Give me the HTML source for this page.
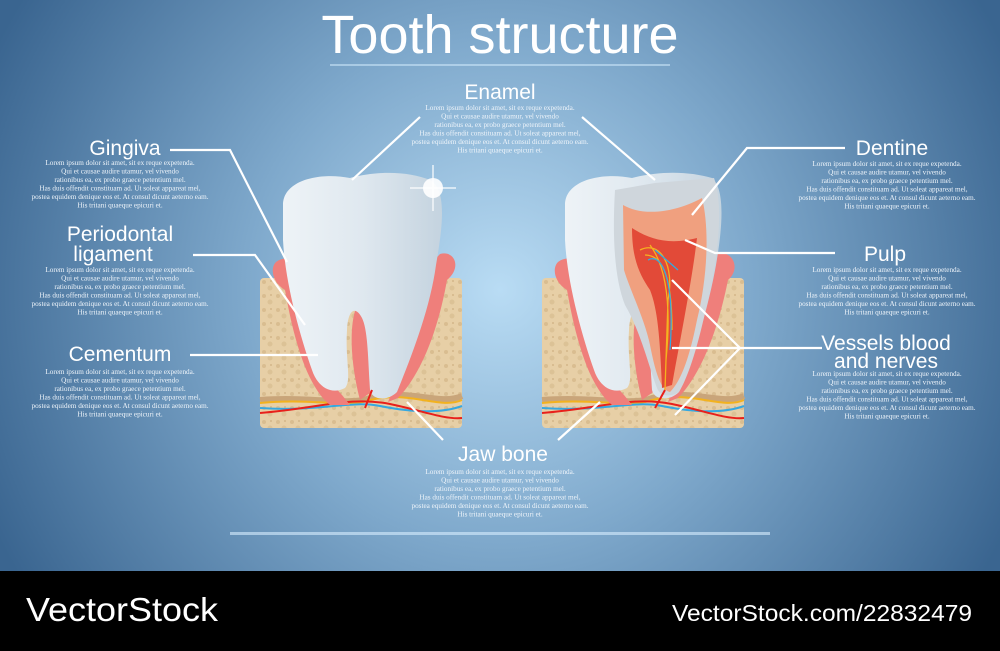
<!DOCTYPE html>
<html><head><meta charset="utf-8"><style>
html,body{margin:0;padding:0;width:1000px;height:651px;overflow:hidden;background:#000}
svg{display:block}
.t{font-family:"Liberation Sans",sans-serif;fill:#fff;text-anchor:middle}
.l{font-family:"Liberation Serif",serif;fill:#eef4fa;font-size:7.2px;text-anchor:middle}
.ln{stroke:#fff;stroke-width:2.2;fill:none}
</style></head><body>
<svg width="1000" height="651" viewBox="0 0 1000 651">
<defs>
<radialGradient id="bg" cx="500" cy="290" r="560" gradientUnits="userSpaceOnUse">
<stop offset="0" stop-color="#b9dcf4"/><stop offset="0.45" stop-color="#7fa9cc"/><stop offset="1" stop-color="#3a6590"/>
</radialGradient>
<linearGradient id="tooth" x1="0" x2="1" y1="0" y2="0">
<stop offset="0" stop-color="#eef3f7"/><stop offset="0.5" stop-color="#dfe8ef"/><stop offset="1" stop-color="#c4d3df"/>
</linearGradient>
<pattern id="bone" width="14" height="14" patternUnits="userSpaceOnUse">
<rect width="14" height="14" fill="#e7cfa6"/><circle cx="4" cy="4" r="2" fill="#d9bd90"/><circle cx="10" cy="10" r="2.5" fill="#dcc296"/><circle cx="11" cy="3" r="1" fill="#d4b788"/>
</pattern>
<g id="base">
<rect x="0" y="0" width="202" height="150" rx="4" fill="url(#bone)"/>
<path d="M0,122 C50,118 90,128 110,120 C150,110 180,128 202,118" stroke="#c9a57a" stroke-width="6" fill="none"/>
<path d="M0,125 C50,120 90,130 110,122 C150,112 180,132 202,122" stroke="#f2b21f" stroke-width="2" fill="none"/>
<path d="M0,130 C60,134 90,122 120,128 C150,134 180,136 202,128" stroke="#36a8e0" stroke-width="2" fill="none"/>
<path d="M0,135 C60,130 90,118 130,126 C160,132 185,142 202,140" stroke="#e8201b" stroke-width="2" fill="none"/>
</g>
</defs>
<rect width="1000" height="571" fill="url(#bg)"/>
<rect y="571" width="1000" height="80" fill="#000"/>
<rect x="230" y="532" width="540" height="3" fill="#d8efff" opacity="0.6"/>
<rect x="330" y="64" width="340" height="2" fill="#d8efff" opacity="0.5"/>

<text class="t" x="500" y="53" font-size="54">Tooth structure</text>

<!-- left illustration -->
<use href="#base" x="260" y="278"/>
<path d="M276,262 C290,252 302,265 300,285 C305,320 318,370 342,395 L350,405 L330,405 C305,385 292,330 285,290 C272,282 270,268 276,262 Z" fill="#ef7f7b"/>
<path d="M440,254 C455,250 462,268 447,280 C440,320 425,370 398,398 L388,402 C405,360 420,310 425,270 Z" fill="#ef7f7b"/>
<path d="M356,308 C370,305 372,340 374,390 L360,400 C352,370 348,330 356,308 Z" fill="#ef7f7b"/>
<path d="M283,205 C283,180 320,172 350,178 C380,170 410,172 430,180 C448,190 442,230 436,265 C430,310 410,360 397,392 C387,402 372,400 370,390 C368,360 368,330 362,318 C355,305 348,310 347,330 C345,360 352,380 345,388 C332,395 318,388 312,370 C298,330 285,280 283,240 Z" fill="url(#tooth)"/>
<path d="M372,390 L365,408" stroke="#e8201b" stroke-width="2"/>
<circle cx="433" cy="188" r="10" fill="#fff" opacity="0.9"/>
<path d="M410,188 L456,188 M433,165 L433,211" stroke="#fff" stroke-width="1.5" opacity="0.8"/>

<!-- right illustration -->
<use href="#base" x="542" y="278"/>
<path d="M558,262 C572,252 584,265 582,285 C587,320 600,370 624,395 L632,405 L612,405 C587,385 574,330 567,290 C554,282 552,268 558,262 Z" fill="#ef7f7b"/>
<path d="M714,254 C732,248 742,268 728,280 C720,320 705,370 678,398 L668,402 C685,360 700,310 705,270 Z" fill="#ef7f7b"/>
<path d="M638,308 C652,305 654,340 656,390 L642,400 C634,370 630,330 638,308 Z" fill="#ef7f7b"/>
<path d="M565,205 C565,180 602,172 632,178 C662,170 692,172 712,178 C726,190 722,230 716,265 C708,310 692,360 679,392 C669,402 654,400 652,390 C650,360 650,330 644,318 C637,305 630,310 629,330 C627,360 634,380 627,388 C614,395 600,388 594,370 C580,330 567,280 565,240 Z" fill="url(#tooth)"/>
<path d="M615,190 L655,183 L714,178 C722,200 720,240 712,280 C702,330 692,370 679,392 C669,398 660,396 657,388 C650,370 640,330 625,305 C615,280 612,240 615,190 Z" fill="#cfd6dc"/>
<path d="M623,205 C640,215 670,215 702,198 C710,230 707,280 697,320 C690,355 682,380 670,392 C660,390 655,370 650,345 C645,320 630,290 624,270 Z" fill="#f0a07f"/>
<path d="M632,228 C650,240 670,245 697,238 C692,280 682,330 672,385 L662,388 C660,340 658,310 650,290 C640,275 632,260 632,228 Z" fill="#e24a38"/>
<path d="M640,250 C660,240 675,265 668,300 L665,390 M645,255 C660,255 672,270 672,330 M650,245 C665,265 672,300 666,360" stroke="#f5b21f" stroke-width="1.3" fill="none"/>
<path d="M648,260 C662,252 675,280 670,350 M655,250 L678,270" stroke="#36a8e0" stroke-width="1.3" fill="none"/>
<path d="M665,390 L655,408" stroke="#e8201b" stroke-width="2"/>

<!-- connector lines -->
<path class="ln" d="M170,150 L230,150 L287,262"/>
<path class="ln" d="M193,255 L255,255 L305,325"/>
<path class="ln" d="M190,355 L318,355"/>
<path class="ln" d="M420,117 L352,180"/>
<path class="ln" d="M582,117 L655,180"/>
<path class="ln" d="M845,148 L747,148 L692,215"/>
<path class="ln" d="M835,253 L715,253 L685,240"/>
<path class="ln" d="M822,348 L740,348 L672,280 M740,348 L672,348 M740,348 L675,415"/>
<path class="ln" d="M443,440 L407,402 M558,440 L600,402"/>

<!-- titles -->
<g class="t" font-size="21">
<text x="500" y="99">Enamel</text>
<text x="125" y="155">Gingiva</text>
<text x="120" y="241">Periodontal</text>
<text x="113" y="261">ligament</text>
<text x="120" y="361">Cementum</text>
<text x="892" y="155">Dentine</text>
<text x="885" y="261">Pulp</text>
<text x="886" y="350">Vessels blood</text>
<text x="886" y="368">and nerves</text>
<text x="503" y="461">Jaw bone</text>
</g>

<!-- lorem blocks -->
<g class="l">
<g transform="translate(500,110)">
<text y="0">Lorem ipsum dolor sit amet, sit ex reque expetenda.</text><text y="8.5">Qui et causae audire utamur, vel vivendo</text><text y="17">rationibus ea, ex probo graece petentium mel.</text><text y="25.5">Has duis offendit constituam ad. Ut soleat appareat mel,</text><text y="34">postea equidem denique eos et. At consul dicunt aeterno eam.</text><text y="42.5">His tritani quaeque epicuri et.</text></g>
<g transform="translate(120,165)">
<text y="0">Lorem ipsum dolor sit amet, sit ex reque expetenda.</text><text y="8.5">Qui et causae audire utamur, vel vivendo</text><text y="17">rationibus ea, ex probo graece petentium mel.</text><text y="25.5">Has duis offendit constituam ad. Ut soleat appareat mel,</text><text y="34">postea equidem denique eos et. At consul dicunt aeterno eam.</text><text y="42.5">His tritani quaeque epicuri et.</text></g>
<g transform="translate(120,272)">
<text y="0">Lorem ipsum dolor sit amet, sit ex reque expetenda.</text><text y="8.5">Qui et causae audire utamur, vel vivendo</text><text y="17">rationibus ea, ex probo graece petentium mel.</text><text y="25.5">Has duis offendit constituam ad. Ut soleat appareat mel,</text><text y="34">postea equidem denique eos et. At consul dicunt aeterno eam.</text><text y="42.5">His tritani quaeque epicuri et.</text></g>
<g transform="translate(120,374)">
<text y="0">Lorem ipsum dolor sit amet, sit ex reque expetenda.</text><text y="8.5">Qui et causae audire utamur, vel vivendo</text><text y="17">rationibus ea, ex probo graece petentium mel.</text><text y="25.5">Has duis offendit constituam ad. Ut soleat appareat mel,</text><text y="34">postea equidem denique eos et. At consul dicunt aeterno eam.</text><text y="42.5">His tritani quaeque epicuri et.</text></g>
<g transform="translate(887,166)">
<text y="0">Lorem ipsum dolor sit amet, sit ex reque expetenda.</text><text y="8.5">Qui et causae audire utamur, vel vivendo</text><text y="17">rationibus ea, ex probo graece petentium mel.</text><text y="25.5">Has duis offendit constituam ad. Ut soleat appareat mel,</text><text y="34">postea equidem denique eos et. At consul dicunt aeterno eam.</text><text y="42.5">His tritani quaeque epicuri et.</text></g>
<g transform="translate(887,272)">
<text y="0">Lorem ipsum dolor sit amet, sit ex reque expetenda.</text><text y="8.5">Qui et causae audire utamur, vel vivendo</text><text y="17">rationibus ea, ex probo graece petentium mel.</text><text y="25.5">Has duis offendit constituam ad. Ut soleat appareat mel,</text><text y="34">postea equidem denique eos et. At consul dicunt aeterno eam.</text><text y="42.5">His tritani quaeque epicuri et.</text></g>
<g transform="translate(887,376)">
<text y="0">Lorem ipsum dolor sit amet, sit ex reque expetenda.</text><text y="8.5">Qui et causae audire utamur, vel vivendo</text><text y="17">rationibus ea, ex probo graece petentium mel.</text><text y="25.5">Has duis offendit constituam ad. Ut soleat appareat mel,</text><text y="34">postea equidem denique eos et. At consul dicunt aeterno eam.</text><text y="42.5">His tritani quaeque epicuri et.</text></g>
<g transform="translate(500,474)">
<text y="0">Lorem ipsum dolor sit amet, sit ex reque expetenda.</text><text y="8.5">Qui et causae audire utamur, vel vivendo</text><text y="17">rationibus ea, ex probo graece petentium mel.</text><text y="25.5">Has duis offendit constituam ad. Ut soleat appareat mel,</text><text y="34">postea equidem denique eos et. At consul dicunt aeterno eam.</text><text y="42.5">His tritani quaeque epicuri et.</text></g>
</g>

<text x="26" y="621" font-family="Liberation Sans,sans-serif" font-size="33" fill="#fff" textLength="192" lengthAdjust="spacingAndGlyphs">VectorStock</text>
<text x="672" y="621" font-family="Liberation Sans,sans-serif" font-size="23" fill="#fff" textLength="300" lengthAdjust="spacingAndGlyphs">VectorStock.com/22832479</text>
</svg>
</body></html>
